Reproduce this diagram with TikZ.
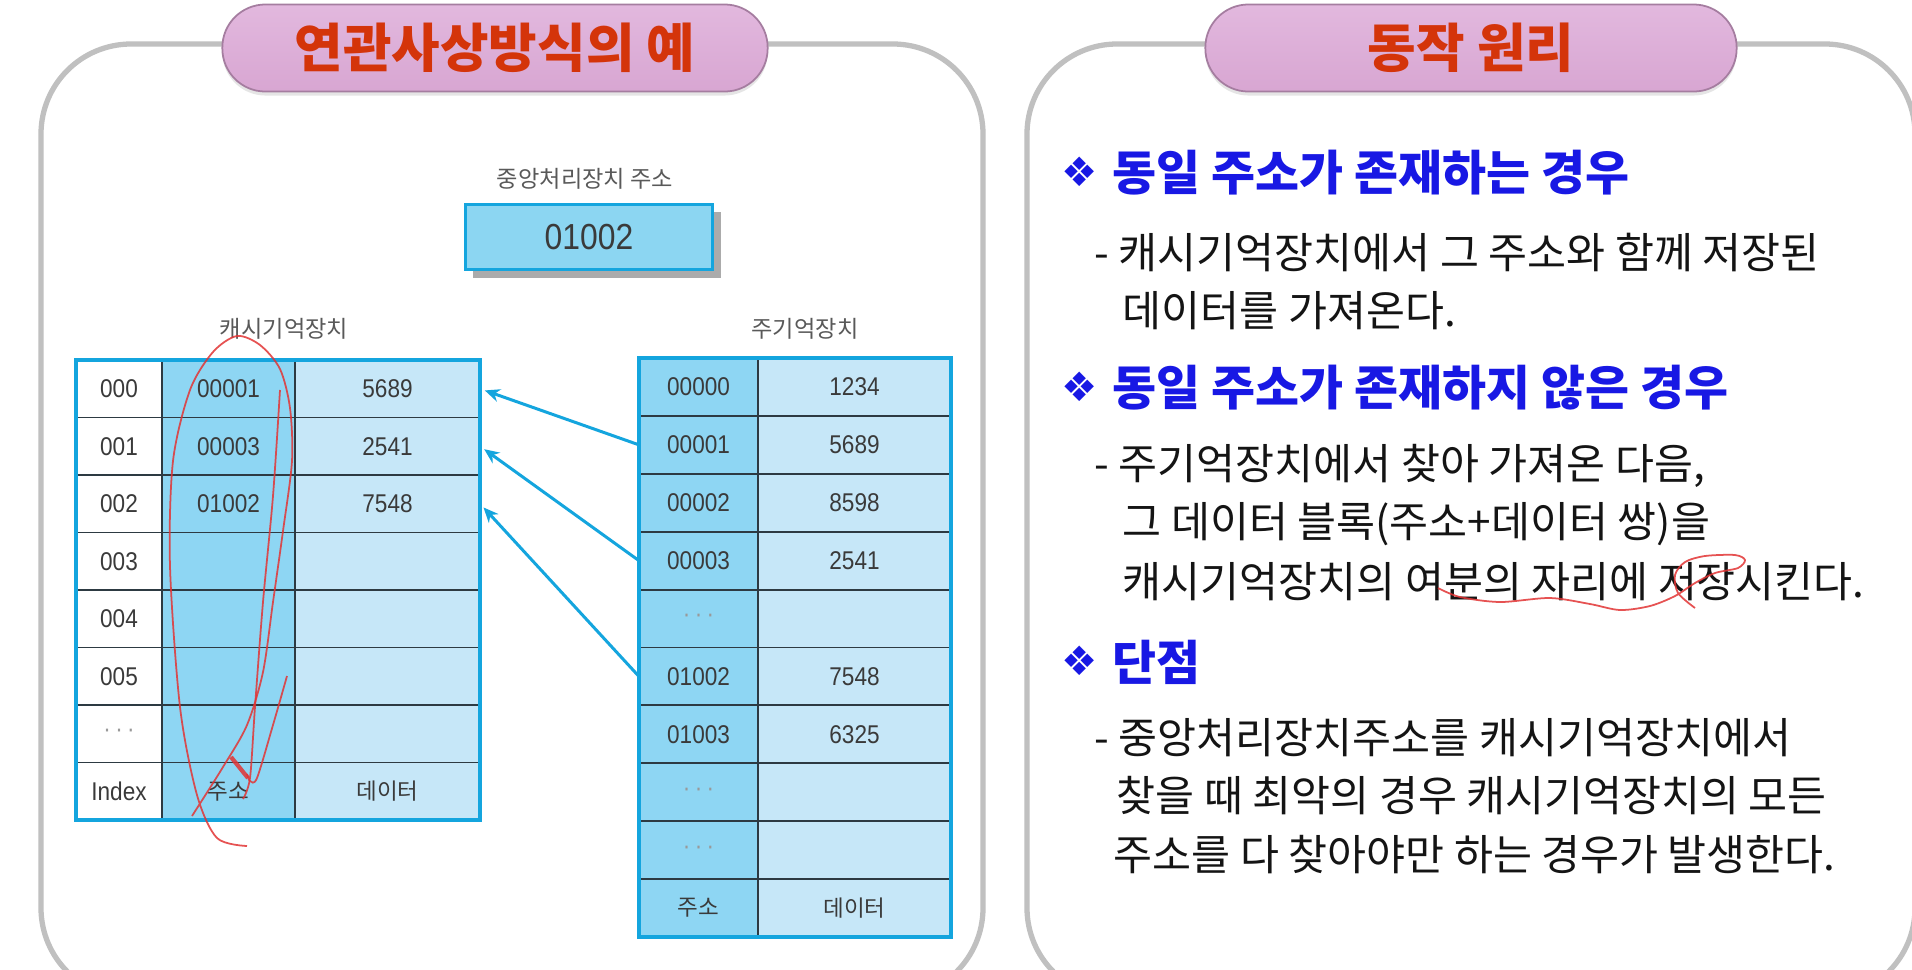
\documentclass[tikz,border=0pt]{standalone}
\usepackage{fontspec}
\setmainfont{Noto Sans CJK KR}
\newfontfamily\numfont[FakeStretch=0.88]{Liberation Sans}
\newfontfamily\symfont{DejaVu Sans}
\usetikzlibrary{positioning,arrows.meta,shadows}
\definecolor{cyanb}{RGB}{20,165,222}
\definecolor{addrc}{RGB}{142,214,243}
\definecolor{datac}{RGB}{198,231,248}
\definecolor{gridc}{RGB}{45,58,66}
\definecolor{panelg}{RGB}{192,192,192}
\definecolor{titler}{RGB}{212,52,10}
\definecolor{headb}{RGB}{24,24,228}
\definecolor{pilltop}{RGB}{226,184,222}
\definecolor{pillmid}{RGB}{249,243,249}
\definecolor{pillbot}{RGB}{216,166,210}
\definecolor{pillb}{RGB}{165,125,160}
\definecolor{cpuf}{RGB}{140,214,242}
\definecolor{txtg}{RGB}{58,58,58}
\definecolor{redpen}{RGB}{226,52,52}
\newcommand\kc[1]{{\rmfamily\fontsize{6.4}{8}\selectfont #1}}
\newcommand\dts{{\color{black!40}·\,·\,·}}

\begin{document}
\begin{tikzpicture}[x=0.01cm,y=-0.01cm,
  panel/.style={draw=panelg,line width=1.5pt,rounded corners=0.9cm},
  pill/.style={draw=pillb,line width=0.5pt,rounded corners=0.43cm,minimum width=5.45cm,minimum height=0.87cm,top color=pilltop,middle color=pillmid,bottom color=pillbot,drop shadow={shadow xshift=0cm,shadow yshift=-0.04cm,opacity=.2},font=\bfseries\fontsize{15}{18}\selectfont,text=titler},
  cell/.style={draw=gridc,line width=0.55pt,inner sep=0pt,outer sep=0pt,minimum height=0.575cm,anchor=north west,font=\numfont\fontsize{7.3}{9}\selectfont,text=txtg},
  frame/.style={draw=cyanb,line width=1pt},
  lbl/.style={inner sep=0pt,font=\fontsize{6.6}{8}\selectfont,text=black!65},
  cpu/.style={draw=cyanb,line width=0.9pt,fill=cpuf,minimum width=2.47cm,minimum height=0.65cm,drop shadow={shadow xshift=0.08cm,shadow yshift=-0.08cm,fill=black!55,opacity=.6},font=\numfont\fontsize{10.3}{12}\selectfont,text=txtg},
  fetch/.style={draw=cyanb,line width=0.85pt,-{Stealth[length=0.15cm,width=0.13cm]},shorten >=0.05cm},
  sym/.style={inner sep=0pt,font=\symfont\fontsize{11.5}{13}\selectfont,text=headb},
  head/.style={anchor=west,inner sep=0pt,font=\bfseries\fontsize{13.6}{16}\selectfont,text=headb},
  body/.style={anchor=west,inner sep=0pt,font=\fontsize{12.05}{14}\selectfont,text=black!92},
  pen/.style={draw=redpen,line width=0.5pt,opacity=.85}]
\useasboundingbox (0,0) rectangle (1912,969);
\clip (0,0) rectangle (1912,969);
\fill[white] (0,0) rectangle (1912,969);
% panels and titles
\draw[panel] (41,44) rectangle (983,998);
\draw[panel] (1027,44) rectangle (1915,998);
\node[pill] (ttl1) at (495,48) {연관사상방식의 예};
\node[pill,minimum width=5.31cm] (ttl2) at (1471,48) {동작 원리};
% cpu address
\node[lbl] (cpulbl) at (585,179) {중앙처리장치 주소};
\node[cpu] (cpu) at (589,237) {01002};
% cache
\node[lbl] (cachelbl) at (284,329) {캐시기억장치};
\foreach \i/\a/\d [count=\r from 0] in {000/00001/5689,001/00003/2541,002/01002/7548,003/{}/{},004/{}/{},005/{}/{},\dts/{}/{},Index/\kc{주소}/\kc{데이터}}{
  \node[cell,minimum width=0.86cm,fill=white] (c\r-i) at (76,{360+57.5*\r}) {\i};
  \node[cell,minimum width=1.33cm,fill=addrc] (c\r-a) at (162,{360+57.5*\r}) {\a};
  \node[cell,minimum width=1.85cm,fill=datac] (c\r-d) at (295,{360+57.5*\r}) {\d};
}
\draw[frame] (c0-i.north west) rectangle (c7-d.south east);
% main memory
\node[lbl] (mainlbl) at (805,329) {주기억장치};
\foreach \a/\d [count=\r from 0] in {00000/1234,00001/5689,00002/8598,00003/2541,\dts/{},01002/7548,01003/6325,\dts/{},\dts/{},\kc{주소}/\kc{데이터}}{
  \node[cell,minimum height=0.579cm,minimum width=1.19cm,fill=addrc] (m\r-a) at (639,{358+57.9*\r}) {\a};
  \node[cell,minimum height=0.579cm,minimum width=1.93cm,fill=datac] (m\r-d) at (758,{358+57.9*\r}) {\d};
}
\draw[frame] (m0-a.north west) rectangle (m9-d.south east);
\draw[fetch] (m1-a.west) -- (c0-d.east);
\draw[fetch] (m3-a.west) -- (c1-d.east);
\draw[fetch] (m5-a.west) -- (c2-d.east);
% principle
\node[sym] (s1) at (1080,172) {❖};
\node[head] (h1) at (1112,173) {동일 주소가 존재하는 경우};
\node[body] (l1) at (1094,252) {- 캐시기억장치에서 그 주소와 함께 저장된};
\node[body] (l2) at (1122,311) {데이터를 가져온다.};
\node[sym] (s2) at (1080,387) {❖};
\node[head] (h2) at (1112,388) {동일 주소가 존재하지 않은 경우};
\node[body] (l3) at (1094,466) {- 주기억장치에서 찾아 가져온 다음,};
\node[body] (l4) at (1122,524) {그 데이터 블록(주소+데이터 쌍)을};
\node[body] (l5) at (1122,582) {캐시기억장치의 여분의 자리에 저장시킨다.};
\node[sym] (s3) at (1080,661) {❖};
\node[head] (h3) at (1112,662) {단점};
\node[body] (l6) at (1094,738) {- 중앙처리장치주소를 캐시기억장치에서};
\node[body] (l7) at (1116,796) {찾을 때 최악의 경우 캐시기억장치의 모든};
\node[body] (l8) at (1113,855) {주소를 다 찾아야만 하는 경우가 발생한다.};
% pen marks
\draw[pen] plot[smooth] coordinates {(247,846) (217,838) (197,795) (180,707) (170,566) (173,461) (190,390) (213,352) (237,336) (260,345) (280,369) (290,408) (292,461) (283,531) (273,602) (263,672) (247,725) (223,767) (192,816)};
\draw[pen] plot[smooth] coordinates {(280,390) (273,496) (263,602) (255,707) (250,778) (243,799)};
\draw[pen] plot[smooth] coordinates {(287,676) (273,725) (257,778) (250,781) (247,774)};
\draw[pen,line width=1.2pt] (231,757) -- (248,778);
\draw[pen] plot[smooth] coordinates {(1438,588) (1460,597) (1500,602) (1550,598) (1590,604) (1620,610) (1650,606) (1675,596) (1695,583) (1715,573) (1738,568) (1745,560) (1735,555) (1705,556) (1685,562) (1675,575) (1678,593) (1695,608)};
\end{tikzpicture}
\end{document}
